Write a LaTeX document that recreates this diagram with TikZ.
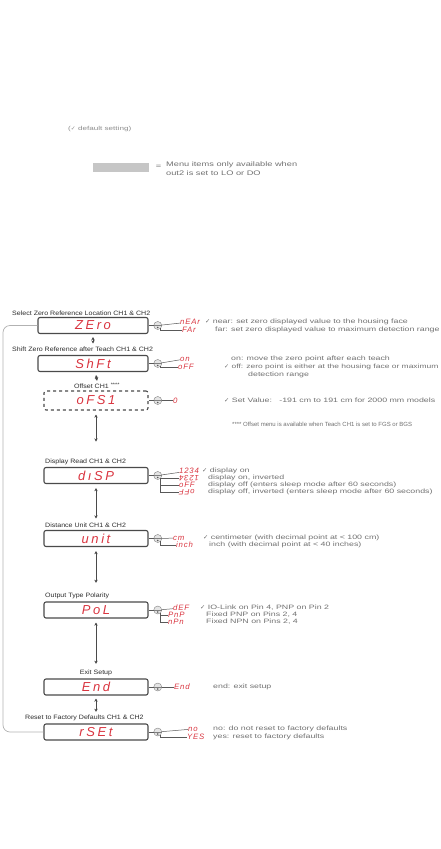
\documentclass[tikz,border=0pt]{standalone}
\usepackage{fontspec}
\setmainfont{Liberation Sans}
\newfontfamily\symfont{DejaVu Sans}
\newfontfamily\descfont[FakeStretch=1.4]{Liberation Sans}
\newfontfamily\lblfont[FakeStretch=1.12]{Liberation Sans}
\newfontfamily\segfont[LetterSpace=20]{Liberation Sans}
\newfontfamily\codefont[LetterSpace=10]{Liberation Sans}
\newcommand{\chk}{{\symfont\char"2713}}
\usetikzlibrary{positioning,arrows.meta}
\definecolor{segred}{HTML}{D9343F}
\definecolor{txtgray}{HTML}{707070}
\definecolor{lblgray}{HTML}{2C2C2C}
\definecolor{boxgray}{HTML}{4A4A4A}
\tikzset{
    disp/.style={draw=boxgray, line width=1.1pt, rounded corners=2pt, minimum width=104pt,
        minimum height=16pt, inner sep=0pt, text=segred,
        font=\segfont\itshape\fontsize{13}{13}\selectfont},
    desc/.style={anchor=west, inner sep=0pt, text=txtgray, font=\descfont\fontsize{6.3}{7}\selectfont},
    lbl/.style={anchor=west, inner sep=0pt, text=lblgray, font=\lblfont\fontsize{6.3}{7}\selectfont},
    code/.style={anchor=west, inner sep=0pt, text=segred, font=\codefont\itshape\fontsize{7.8}{7.8}\selectfont},
    btn/.style={circle, draw=gray, fill=gray!20, minimum size=8pt, inner sep=0pt},
    wire/.style={draw=gray!70!black, line width=0.5pt},
    updown/.style={{Stealth[length=3.2pt,width=3.4pt]}-{Stealth[length=3.2pt,width=3.4pt]},
        line width=1pt, draw=boxgray}
}
\begin{document}
\begin{tikzpicture}[x=1pt,y=-1pt]
    \useasboundingbox (0,0) rectangle (441,849);

    % legend
    \node[desc, font=\descfont\fontsize{5.8}{7}\selectfont, text=txtgray!80] (dflt) at (68,129) {(\chk\ default setting)};
    \node[fill=gray!45, minimum width=56pt, minimum height=9pt, inner sep=0pt] (gbar) at (120.5,167) {};
    \node[desc, font=\descfont\fontsize{6.6}{9}\selectfont, right=7pt of gbar] (eq) {=};
    \node[desc, font=\descfont\fontsize{6.6}{9}\selectfont, anchor=north west, align=left] (lgd) at (166,162)
        {Menu items only available when\\out2 is set to LO or DO};

    % menu boxes
    \node[disp, minimum width=110pt] (zr) at (93,325.5) {ZEro};
    \node[disp, minimum width=110pt] (sh) at (93,363.5) {ShFt};
    \node[disp, dashed, minimum height=19pt] (of) at (96,400.5) {oFS1};
    \node[disp] (ds) at (96,475.5) {d{ı}SP};
    \node[disp] (un) at (96,538.5) {unit};
    \node[disp] (po) at (96,610) {PoL};
    \node[disp] (en) at (96,687) {End};
    \node[disp] (rs) at (96,732) {rSEt};

    % titles
    \node[lbl] (lzr) at (12,313) {Select Zero Reference Location CH1 \& CH2};
    \node[lbl] (lsh) at (12,349) {Shift Zero Reference after Teach CH1 \& CH2};
    \node[lbl, anchor=center] (lof) at (97,386) {Offset CH1 \textsuperscript{\tiny****}};
    \node[lbl] (lds) at (45,462) {Display Read CH1 \& CH2};
    \node[lbl] (lun) at (45,525) {Distance Unit CH1 \& CH2};
    \node[lbl] (lpo) at (45,596) {Output Type Polarity};
    \node[lbl, anchor=center] (len) at (96,673) {Exit Setup};
    \node[lbl] (lrs) at (25,718) {Reset to Factory Defaults CH1 \& CH2};

    % up/down arrows
    \draw[updown] ([yshift=-3pt]zr.south) -- ([yshift=3pt]zr.south |- lsh.north);
    \draw[updown] ([yshift=-3pt]sh.south -| of) -- ([yshift=2pt]lof.north);
    \draw[updown] ([yshift=-4pt]of.south) -- ++(0,27);
    \draw[updown] ([yshift=-4pt]ds.south) -- ([yshift=4pt]ds.south |- lun.north);
    \draw[updown] ([yshift=-4pt]un.south) -- ([yshift=10pt]un.south |- lpo.north);
    \draw[updown] ([yshift=-4pt]po.south) -- ([yshift=6pt]len.north);
    \draw[updown] ([yshift=-3pt]en.south) -- ([yshift=3pt]en.south |- lrs.north);

    % loop back
    \draw[wire, draw=gray!60, line width=0.7pt, rounded corners=7pt] (zr.west) -- (3,325.5) -- (3,732) -- (rs.west);

    % buttons
    \node[btn, right=5pt of zr] (bzr) {};
    \node[btn, right=5pt of sh] (bsh) {};
    \node[btn, right=5pt of of] (bof) {};
    \node[btn, right=5pt of ds] (bds) {};
    \node[btn, right=5pt of un] (bun) {};
    \node[btn, right=5pt of po] (bpo) {};
    \node[btn, right=5pt of en] (ben) {};
    \node[btn, right=5pt of rs] (brs) {};
    \foreach \bx/\b in {zr/bzr, sh/bsh, of/bof, ds/bds, un/bun, po/bpo, en/ben, rs/brs} {
        \draw[wire] (\bx) -- (\b);
        \draw[gray, line width=0.4pt] (\b.west) -- (\b.east);
        \fill[gray!70!black] ([yshift=-2pt]\b.center) circle (0.9pt);
    }

    % zero reference
    \node[code] (znr) at (180,322) {nEAr};
    \node[code] (zfr) at (182,330) {FAr};
    \draw[wire] (bzr) -- (znr);
    \draw[wire] (bzr.south east) |- (zfr);
    \node[desc] at (205,322) {\chk\ near: set zero displayed value to the housing face};
    \node[desc] at (215,330) {far: set zero displayed value to maximum detection range};

    % shift
    \node[code] (son) at (180,359) {on};
    \node[code] (sof) at (178,367) {oFF};
    \draw[wire] (bsh) -- (son);
    \draw[wire] (bsh.south east) |- (sof);
    \node[desc] at (231,359) {on: move the zero point after each teach};
    \node[desc, font=\descfont\fontsize{6.05}{7}\selectfont] at (224,367) {\chk\ off: zero point is either at the housing face or maximum};
    \node[desc] at (248,375) {detection range};

    % offset
    \node[code] (oze) at (173,400.5) {0};
    \draw[wire] (bof) -- (oze);
    \node[desc] at (224,400.5) {\chk\ Set Value:\ \ \ -191 cm to 191 cm for 2000 mm models};
    \node[desc, font=\fontsize{6.0}{7}\selectfont] at (232,424) {**** Offset menu is available when Teach CH1 is set to FGS or BGS};

    % display read
    \node[code] (don) at (179,471) {1234};
    \node[code, rotate=180, anchor=east] (dinv) at (179,478) {1234};
    \node[code] (dof) at (179,485) {oFF};
    \node[code, rotate=180, anchor=east] (doi) at (179,492) {oFF};
    \draw[wire] (bds) -- (don);
    \draw[wire] (bds.south east) |- (dinv.east);
    \draw[wire] (bds.south east) |- (dof);
    \draw[wire] (bds.south east) |- (doi.east);
    \node[desc] at (202,471) {\chk\ display on};
    \node[desc] at (208,478) {display on, inverted};
    \node[desc] at (208,485) {display off (enters sleep mode after 60 seconds)};
    \node[desc] at (208,492) {display off, inverted (enters sleep mode after 60 seconds)};

    % distance unit
    \node[code] (ucm) at (173,538) {cm};
    \node[code] (uin) at (176,545) {inch};
    \draw[wire] (bun) -- (ucm);
    \draw[wire] (bun.south east) |- (uin);
    \node[desc] at (203,538) {\chk\ centimeter (with decimal point at < 100 cm)};
    \node[desc] at (209,545) {inch (with decimal point at < 40 inches)};

    % polarity
    \node[code] (pdf) at (173,608) {dEF};
    \node[code] (ppn) at (168,615) {PnP};
    \node[code] (pnp) at (168,622) {nPn};
    \draw[wire] (bpo) -- (pdf);
    \draw[wire] (bpo.south east) |- (ppn);
    \draw[wire] (bpo.south east) |- (pnp);
    \node[desc] at (200,608) {\chk\ IO-Link on Pin 4, PNP on Pin 2};
    \node[desc] at (206,615) {Fixed PNP on Pins 2, 4};
    \node[desc] at (206,622) {Fixed NPN on Pins 2, 4};

    % exit
    \node[code] (eed) at (174,687) {End};
    \draw[wire] (ben) -- (eed);
    \node[desc] at (213,687) {end: exit setup};

    % reset
    \node[code] (rno) at (188,729) {no};
    \node[code] (rys) at (187,737) {YES};
    \draw[wire] (brs) -- (rno);
    \draw[wire] (brs.south east) |- (rys);
    \node[desc] at (213,729) {no: do not reset to factory defaults};
    \node[desc] at (213,737) {yes: reset to factory defaults};
\end{tikzpicture}
\end{document}
